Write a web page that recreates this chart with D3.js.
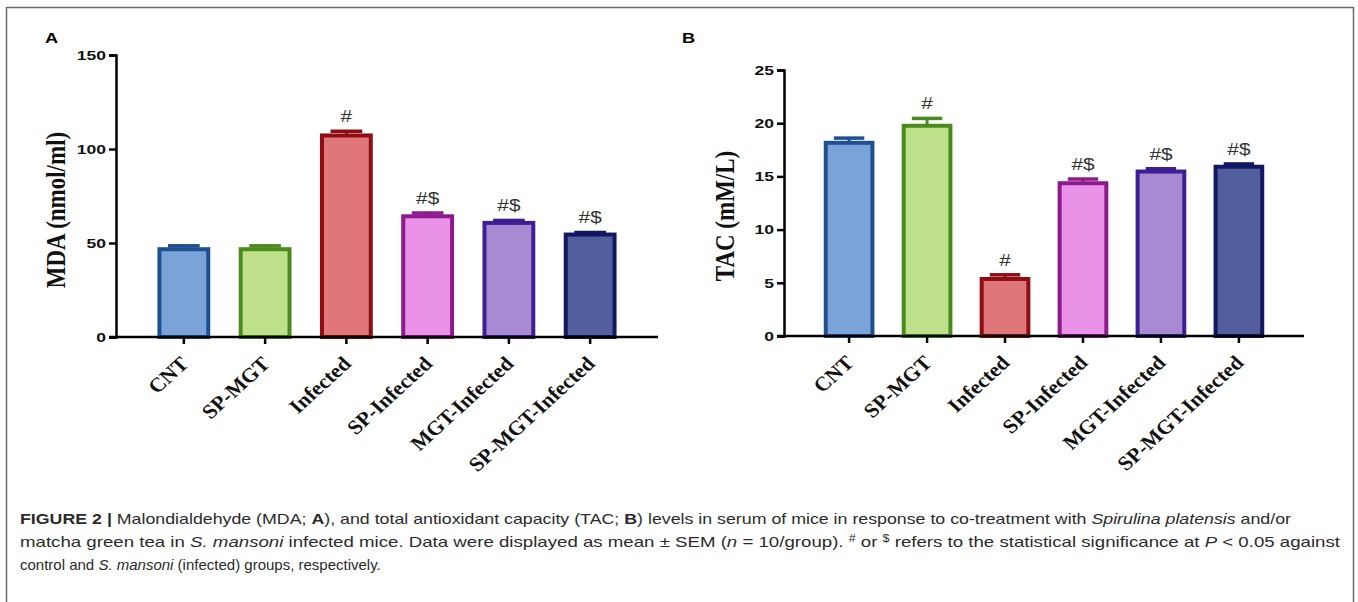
<!DOCTYPE html>
<html>
<head>
<meta charset="utf-8">
<script src="https://cdn.jsdelivr.net/npm/d3@7"></script>
<style>
  body { margin: 0; background: #fff; }
  svg { display: block; }
</style>
</head>
<body>
<script>
// chart data
var categories = ["CNT", "SP-MGT", "Infected", "SP-Infected", "MGT-Infected", "SP-MGT-Infected"];

var mdaMeans = [47.5, 47.5, 108, 65, 61.5, 55.3];
var mdaSem = [1.0, 1.0, 1.5, 1.0, 0.5, 0.3];
var mdaMarks = ["", "", "#", "#$", "#$", "#$"];
var mdaTicks = [0, 50, 100, 150];

var tacMeans = [18.3, 19.9, 5.5, 14.5, 15.6, 16.05];
var tacSem = [0.3, 0.55, 0.25, 0.25, 0.12, 0.12];
var tacMarks = ["", "#", "#", "#$", "#$", "#$"];
var tacTicks = [0, 5, 10, 15, 20, 25];

var fillColors = ["#7aa3d8", "#bfe08a", "#df7679", "#e992e8", "#a78ad2", "#525e9e"];
var strokeColors = ["#1f4f91", "#4b8b1e", "#8e0c12", "#8d1a8c", "#3d1f94", "#111860"];

// the figure's text is a bit wider than normal
var stretch = 1.3;
var labelStretch = 1.1;

var svgWidth = 1358;
var svgHeight = 602;

var svg = d3.select("body")
  .append("svg")
  .attr("width", svgWidth)
  .attr("height", svgHeight);

// outer frame
svg.append("rect")
  .attr("x", 6.5)
  .attr("y", 7.5)
  .attr("width", 1347)
  .attr("height", 620)
  .attr("fill", "none")
  .attr("stroke", "#6b6b6b")
  .attr("stroke-width", 1.5);

function drawPanel(p) {
  var g = svg.append("g");

  var x = d3.scaleBand()
    .domain(categories)
    .range([p.left, p.right])
    .paddingInner(0.35)
    .paddingOuter(0.51);

  var y = d3.scaleLinear()
    .domain([0, p.max])
    .range([p.bottom, p.top]);

  var bars = g.selectAll(".bar")
    .data(categories)
    .enter()
    .append("g")
    .attr("class", "bar");

  // error bars (upper only)
  bars.append("line")
    .attr("x1", d => x(d) + x.bandwidth() / 2)
    .attr("x2", d => x(d) + x.bandwidth() / 2)
    .attr("y1", (d, i) => y(p.means[i]))
    .attr("y2", (d, i) => y(p.means[i] + p.sem[i]))
    .attr("stroke", (d, i) => strokeColors[i])
    .attr("stroke-width", 3);

  bars.append("line")
    .attr("x1", d => x(d) + x.bandwidth() * 0.2)
    .attr("x2", d => x(d) + x.bandwidth() * 0.8)
    .attr("y1", (d, i) => y(p.means[i] + p.sem[i]))
    .attr("y2", (d, i) => y(p.means[i] + p.sem[i]))
    .attr("stroke", (d, i) => strokeColors[i])
    .attr("stroke-width", 3.5);

  bars.append("rect")
    .attr("x", d => x(d) + 2)
    .attr("y", (d, i) => y(p.means[i]) + 1.5)
    .attr("width", x.bandwidth() - 4)
    .attr("height", (d, i) => p.bottom - y(p.means[i]) - 1.5)
    .attr("fill", (d, i) => fillColors[i])
    .attr("stroke", (d, i) => strokeColors[i])
    .attr("stroke-width", 4);

  // significance marks
  bars.append("text")
    .attr("transform", (d, i) => `translate(${x(d) + x.bandwidth() / 2},${y(p.means[i] + p.sem[i]) - 9}) scale(${stretch},1)`)
    .attr("text-anchor", "middle")
    .attr("font-family", "Liberation Sans, Arial, sans-serif")
    .attr("font-size", 16)
    .attr("fill", "#333")
    .text((d, i) => p.marks[i]);

  // y axis
  var yAxis = g.append("g")
    .attr("transform", `translate(${p.left},0)`)
    .call(d3.axisLeft(y).tickValues(p.ticks).tickSize(7).tickPadding(3));
  yAxis.select(".domain").attr("stroke-width", 2.5).attr("stroke", "#000");
  yAxis.selectAll(".tick line").attr("stroke-width", 2.5).attr("stroke", "#000");
  yAxis.selectAll(".tick text")
    .attr("x", -10 / stretch)
    .attr("transform", `scale(${stretch},1)`)
    .attr("font-family", "Liberation Sans, Arial, sans-serif")
    .attr("font-weight", "bold")
    .attr("font-size", 13.5)
    .attr("fill", "#111");

  // x axis
  var xAxis = g.append("g")
    .attr("transform", `translate(0,${p.bottom})`)
    .call(d3.axisBottom(x).tickSize(7).tickSizeOuter(0));
  xAxis.select(".domain")
    .attr("d", `M${p.left - 7},0H${p.axisEnd}`)
    .attr("stroke-width", 2.5).attr("stroke", "#000");
  xAxis.selectAll(".tick line").attr("stroke-width", 2.5).attr("stroke", "#000");
  xAxis.selectAll(".tick text")
    .attr("font-family", "Liberation Serif, Times New Roman, serif")
    .attr("font-weight", "bold")
    .attr("font-size", 20)
    .attr("fill", "#111")
    .attr("text-anchor", "end")
    .attr("dy", null)
    .attr("y", 0)
    .attr("transform", `translate(6,28) scale(${labelStretch},1) rotate(-45)`);

  // y title
  g.append("text")
    .attr("transform", `translate(${p.titleX},${p.titleY}) scale(1.15,1) rotate(-90)`)
    .attr("text-anchor", "middle")
    .attr("dy", "0.35em")
    .attr("font-family", "Liberation Serif, Times New Roman, serif")
    .attr("font-weight", "bold")
    .attr("font-size", 23)
    .attr("fill", "#111")
    .text(p.title);

  // panel letter
  g.append("text")
    .attr("transform", `translate(${p.letterX},43) scale(${stretch},1)`)
    .attr("font-family", "Liberation Sans, Arial, sans-serif")
    .attr("font-weight", "bold")
    .attr("font-size", 14)
    .attr("fill", "#000")
    .text(p.letter);
}

drawPanel({
  left: 116, right: 658, axisEnd: 658, top: 55, bottom: 337, max: 150,
  means: mdaMeans, sem: mdaSem, marks: mdaMarks, ticks: mdaTicks,
  title: "MDA (nmol/ml)", titleX: 56, titleY: 210, letter: "A", letterX: 45
});

drawPanel({
  left: 784, right: 1304, axisEnd: 1304, top: 70, bottom: 336, max: 25,
  means: tacMeans, sem: tacSem, marks: tacMarks, ticks: tacTicks,
  title: "TAC (mM/L)", titleX: 725, titleY: 216, letter: "B", letterX: 682
});

// caption
var cap = svg.append("g")
  .attr("font-family", "Liberation Sans, Arial, sans-serif")
  .attr("font-size", 15)
  .attr("fill", "#2b2b2b");

var l1 = cap.append("text").attr("x", 20).attr("y", 524)
  .attr("textLength", 1271).attr("lengthAdjust", "spacingAndGlyphs");
l1.append("tspan").attr("font-weight", "bold").text("FIGURE 2 | ");
l1.append("tspan").text("Malondialdehyde (MDA; ");
l1.append("tspan").attr("font-weight", "bold").text("A");
l1.append("tspan").text("), and total antioxidant capacity (TAC; ");
l1.append("tspan").attr("font-weight", "bold").text("B");
l1.append("tspan").text(") levels in serum of mice in response to co-treatment with ");
l1.append("tspan").attr("font-style", "italic").text("Spirulina platensis");
l1.append("tspan").text(" and/or");

var l2 = cap.append("text").attr("x", 20).attr("y", 547)
  .attr("textLength", 1320).attr("lengthAdjust", "spacingAndGlyphs");
l2.append("tspan").text("matcha green tea in ");
l2.append("tspan").attr("font-style", "italic").text("S. mansoni");
l2.append("tspan").text(" infected mice. Data were displayed as mean \u00b1 SEM (");
l2.append("tspan").attr("font-style", "italic").text("n");
l2.append("tspan").text(" = 10/group). ");
l2.append("tspan").attr("font-size", 10).attr("dy", -5).text("#");
l2.append("tspan").attr("dy", 5).text(" or ");
l2.append("tspan").attr("font-size", 10).attr("dy", -5).text("$");
l2.append("tspan").attr("dy", 5).text(" refers to the statistical significance at ");
l2.append("tspan").attr("font-style", "italic").text("P");
l2.append("tspan").text(" < 0.05 against");

var l3 = cap.append("text").attr("x", 20).attr("y", 570);
l3.append("tspan").text("control and ");
l3.append("tspan").attr("font-style", "italic").text("S. mansoni");
l3.append("tspan").text(" (infected) groups, respectively.");
</script>
</body>
</html>
